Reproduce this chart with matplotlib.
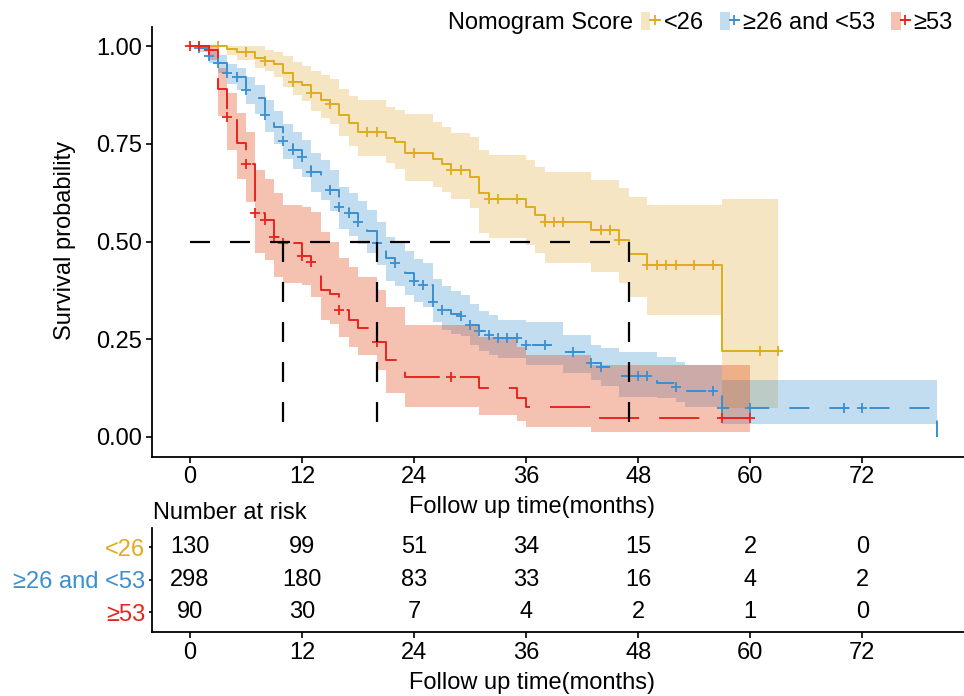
import numpy as np
import matplotlib
matplotlib.use('Agg')
import matplotlib.pyplot as plt
from matplotlib.lines import Line2D
from matplotlib.patches import Patch
from matplotlib.legend_handler import HandlerTuple

plt.rcParams['font.family'] = ['Liberation Sans', 'DejaVu Sans']

groups = ['<26', '≥26 and <53', '≥53']
line_colors = ['#DEAC1E', '#3A8FD0', '#E8241E']
band_colors = ['#DEAC37', '#3A8FD0', '#DE3700']

# Nomogram Score < 26  (event times, survival, lower / upper CI)
low_t = [0, 4, 5, 7, 8, 9, 10, 11, 12, 13, 14, 15, 16, 17, 18, 21, 22, 23, 26, 27, 28, 30, 31, 32, 36, 37, 38, 43, 46, 47, 49, 57]
low_s = [1.0, 0.992, 0.985, 0.969, 0.962, 0.954, 0.932, 0.909, 0.900, 0.879, 0.862, 0.853, 0.824, 0.802, 0.781, 0.766,
         0.755, 0.727, 0.711, 0.697, 0.684, 0.666, 0.623, 0.608, 0.589, 0.568, 0.551, 0.529, 0.504, 0.468, 0.440, 0.221]
low_lo = [1.0, 0.977, 0.964, 0.945, 0.935, 0.922, 0.895, 0.875, 0.860, 0.835, 0.815, 0.800, 0.770, 0.745, 0.720, 0.700,
          0.685, 0.655, 0.640, 0.627, 0.610, 0.585, 0.522, 0.509, 0.491, 0.470, 0.445, 0.423, 0.394, 0.359, 0.312, 0.075]
low_hi = [1.0, 1.0, 1.0, 1.0, 0.990, 0.985, 0.975, 0.960, 0.950, 0.935, 0.925, 0.915, 0.890, 0.872, 0.862, 0.845,
          0.836, 0.826, 0.806, 0.794, 0.777, 0.768, 0.734, 0.721, 0.708, 0.691, 0.679, 0.657, 0.636, 0.615, 0.593, 0.610]
low_cens = [3, 6, 8, 11, 13, 15, 19, 20, 24, 28, 29, 32, 33, 35, 38, 39, 40, 44, 45, 46, 49, 50, 51, 52, 54, 56, 61, 63]
low_end = 63

# 26 <= score < 53
mid_t = list(range(0, 34)) + [36, 40, 43, 44, 46, 50, 52, 53, 57, 80]
mid_s = [1.0, 0.995, 0.975, 0.956, 0.932, 0.920, 0.887, 0.866, 0.824, 0.794,
         0.758, 0.735, 0.716, 0.678, 0.660, 0.632, 0.589, 0.572, 0.551, 0.527,
         0.495, 0.457, 0.444, 0.420, 0.400, 0.389, 0.346, 0.325, 0.315, 0.310,
         0.286, 0.270, 0.260, 0.252, 0.235, 0.218, 0.190, 0.180, 0.155, 0.137, 0.129, 0.118, 0.073, 0.0]
mid_lo = [1.0, 0.985, 0.957, 0.932, 0.903, 0.888, 0.851, 0.827, 0.781, 0.749,
          0.710, 0.686, 0.665, 0.626, 0.606, 0.578, 0.533, 0.515, 0.494, 0.470,
          0.440, 0.400, 0.387, 0.363, 0.344, 0.333, 0.295, 0.273, 0.263, 0.258,
          0.234, 0.220, 0.210, 0.203, 0.185, 0.163, 0.146, 0.130, 0.103, 0.099, 0.090, 0.077, 0.033, 0.0]
mid_hi = [1.0, 1.0, 0.990, 0.977, 0.955, 0.945, 0.920, 0.900, 0.862, 0.835,
          0.800, 0.780, 0.760, 0.726, 0.708, 0.682, 0.640, 0.624, 0.604, 0.580,
          0.550, 0.512, 0.500, 0.476, 0.455, 0.445, 0.405, 0.385, 0.373, 0.363,
          0.340, 0.322, 0.312, 0.300, 0.295, 0.260, 0.235, 0.228, 0.218, 0.205, 0.193, 0.184, 0.146, 0.0]
mid_cens = [1, 2, 3, 4, 5, 6, 8, 10, 11, 12, 13, 15, 16, 17, 18, 20, 22, 24, 25, 26, 27, 29, 30, 31, 32, 33, 34, 35,
            36, 38, 41, 43, 44, 48, 49, 52, 56, 57, 60, 70, 72]
mid_end = 80

# score >= 53
high_t = [0, 2, 3, 4, 5, 6, 7, 8, 9, 10, 12, 13, 14, 15, 16, 17, 18, 20, 21, 23, 31, 35, 36, 43]
high_s = [1.0, 0.989, 0.890, 0.818, 0.751, 0.698, 0.572, 0.555, 0.511, 0.497, 0.463, 0.447, 0.376, 0.365, 0.325, 0.300,
          0.278, 0.244, 0.197, 0.154, 0.124, 0.100, 0.077, 0.049]
high_lo = [1.0, 0.965, 0.820, 0.735, 0.660, 0.600, 0.470, 0.453, 0.410, 0.394, 0.389, 0.359, 0.300, 0.290, 0.256, 0.231,
           0.210, 0.171, 0.112, 0.077, 0.055, 0.040, 0.026, 0.012]
high_hi = [1.0, 1.0, 0.945, 0.880, 0.830, 0.780, 0.683, 0.660, 0.624, 0.593, 0.589, 0.576, 0.525, 0.500, 0.457, 0.435,
           0.410, 0.376, 0.333, 0.286, 0.255, 0.230, 0.210, 0.184]
high_cens = [0, 1, 2, 4, 6, 7, 8, 9, 10, 12, 13, 16, 20, 28, 57, 60]
high_end = 60

medians = [47, 20, 10]

risk_times = [0, 12, 24, 36, 48, 60, 72]
risk_low = [130, 99, 51, 34, 15, 2, 0]
risk_mid = [298, 180, 83, 33, 16, 4, 2]
risk_high = [90, 30, 7, 4, 2, 1, 0]

curves = [
    (low_t, low_s, low_lo, low_hi, low_cens, low_end),
    (mid_t, mid_s, mid_lo, mid_hi, mid_cens, mid_end),
    (high_t, high_s, high_lo, high_hi, high_cens, high_end),
]
styles = ['-', (0, (10.3, 10.3)), (0, (20.6, 10.3))]

W, H = 964, 696
fig = plt.figure(figsize=(W / 100, H / 100), dpi=100)
ax = fig.add_axes([152 / W, 1 - 456.5 / H, (W - 152) / W, 430 / H])

for (t, s, lo, hi, cens, end), lc, bc, ls in zip(curves, line_colors, band_colors, styles):
    tx = np.array(t + [end], dtype=float)
    sx = np.array(s + [s[-1]])
    ax.fill_between(tx, low := np.array(lo + [lo[-1]]), np.array(hi + [hi[-1]]), step='post',
                    color=bc, alpha=0.3, lw=0)

for (t, s, lo, hi, cens, end), lc, ls in zip(curves, line_colors, styles):
    tx = np.array(t + [end], dtype=float)
    sx = np.array(s + [s[-1]])
    ax.step(tx, sx, where='post', color=lc, lw=1.4, ls=ls)
    idx = np.searchsorted(t, cens, side='right') - 1
    ax.plot(cens, np.array(s)[idx], ls='none', marker='+', ms=7, mew=1.3, color=lc)

# median survival lines
dash = (0, (9, 9))
ax.plot([0, max(medians)], [0.5, 0.5], color='black', lw=1.6, ls=dash)
for m in medians:
    ax.plot([m, m], [0.5, 0], color='black', lw=1.6, ls=dash)

ax.set_xlim(-4.07, 82.9)
ax.set_ylim(-0.05, 1.05)
ax.set_xticks(risk_times)
ax.set_yticks([0, 0.25, 0.5, 0.75, 1.0])
ax.set_yticklabels(['0.00', '0.25', '0.50', '0.75', '1.00'])
for sp in ['top', 'right']:
    ax.spines[sp].set_visible(False)
for sp in ['left', 'bottom']:
    ax.spines[sp].set_linewidth(1.3)
ax.tick_params(labelsize=17, length=4, width=1.2, pad=3)

fig.text(65 / W, 1 - 240 / H, 'Survival probability', rotation=90, ha='center', va='center', fontsize=17)
fig.text(532 / W, 1 - 507 / H, 'Follow up time(months)', ha='center', va='center', fontsize=17)

# legend
fig.text(633 / W, 1 - 23 / H, 'Nomogram Score', ha='right', va='center', fontsize=17)
handles = [(Patch(fc=bc, alpha=0.3, lw=0), Line2D([], [], color=lc, lw=1.4, marker='+', ms=7, mew=1.3))
           for lc, bc in zip(line_colors, band_colors)]
fig.legend(handles, groups, handler_map={tuple: HandlerTuple(ndivide=None)}, ncol=3, frameon=False,
           loc='center left', bbox_to_anchor=(641 / W, 1 - 23 / H), fontsize=17, borderpad=0, borderaxespad=0,
           handlelength=0.8, handleheight=0.8, handletextpad=0.15, columnspacing=0.7)

# number at risk table
tab = fig.add_axes([152 / W, 1 - 632 / H, (W - 152) / W, 104.5 / H])
tab.set_xlim(-4.07, 82.9)
tab.set_ylim(0.4, 3.6)
for row, counts in zip([3, 2, 1], [risk_low, risk_mid, risk_high]):
    for x, n in zip(risk_times, counts):
        tab.text(x, row, str(n), ha='center', va='center', fontsize=17)
tab.set_xticks(risk_times)
tab.set_yticks([3, 2, 1])
tab.set_yticklabels(groups)
for lab, c in zip(tab.get_yticklabels(), line_colors):
    lab.set_color(c)
for sp in ['top', 'right']:
    tab.spines[sp].set_visible(False)
for sp in ['left', 'bottom']:
    tab.spines[sp].set_linewidth(1.3)
tab.tick_params(labelsize=17, length=4, width=1.2, pad=3)
tab.tick_params(axis='y', length=2)

fig.text(153 / W, 1 - 513 / H, 'Number at risk', ha='left', va='center', fontsize=17)
fig.text(532 / W, 1 - 683 / H, 'Follow up time(months)', ha='center', va='center', fontsize=17)

fig.savefig('out.png', dpi=100)
